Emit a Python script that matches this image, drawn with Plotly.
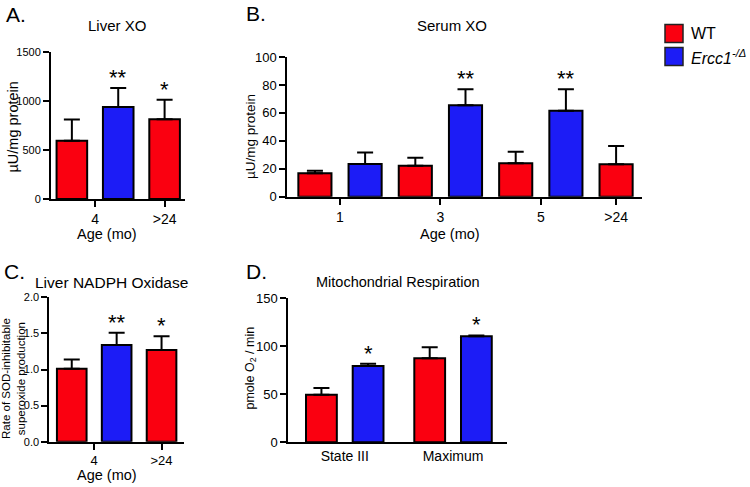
import plotly.graph_objects as go

# ---------------- data ----------------
liver_xo_age = ["4", "4", ">24"]
liver_xo_genotype = ["WT", "Ercc1", "WT"]
liver_xo_mean = [595, 940, 815]
liver_xo_sem = [218, 195, 200]
liver_xo_sig = ["", "**", "*"]

serum_xo_age = ["1", "1", "3", "3", "5", "5", ">24"]
serum_xo_genotype = ["WT", "Ercc1", "WT", "Ercc1", "WT", "Ercc1", "WT"]
serum_xo_mean = [16.7, 23.4, 22.1, 65.5, 23.9, 61.5, 23.2]
serum_xo_sem = [1.9, 8.3, 5.8, 11.5, 8.3, 15.5, 13.1]
serum_xo_sig = ["", "", "", "**", "", "**", ""]

nadph_age = ["4", "4", ">24"]
nadph_genotype = ["WT", "Ercc1", "WT"]
nadph_mean = [1.01, 1.34, 1.27]
nadph_sem = [0.13, 0.17, 0.19]
nadph_sig = ["", "**", "*"]

resp_state = ["State III", "State III", "Maximum", "Maximum"]
resp_genotype = ["WT", "Ercc1", "WT", "Ercc1"]
resp_mean = [49.5, 79.5, 87.5, 110.5]
resp_sem = [7.0, 2.2, 11.5, 0.8]
resp_sig = ["", "*", "", "*"]

genotypes = ["WT", "Ercc1"]
genotype_names = {"WT": "WT", "Ercc1": "<i>Ercc1</i><sup><i>-/Δ</i></sup>"}

# ---------------- style ----------------
FONT = "Liberation Sans, Arial, Helvetica, sans-serif"
COLORS = {"WT": "#fa0010", "Ercc1": "#1c1cf6"}
W, H = 750, 487


def px_x(p):
    return p / W


def px_y(p):
    return 1 - p / H


panels = [
    dict(letter="A.", title="Liver XO", groups=liver_xo_age, geno=liver_xo_genotype,
         mean=liver_xo_mean, sem=liver_xo_sem, sig=liver_xo_sig,
         xdom=[51, 185], ydom=[199, 52.3], xr=[-0.45, 2.44], yr=[0, 1500], dtick=500,
         tickfmt="", ytitle="µU/mg protein", ytitle_size=14.5, ytitle_pos=(12.5, 127),
         ytick_size=11, xtick_size=14,
         xtitle="Age (mo)", xtitle_pos=(107, 234), xticks=True, gap=0.0,
         letter_pos=(4, 15), title_pos=(117, 25), title_size=15),
    dict(letter="B.", title="Serum XO", groups=serum_xo_age, geno=serum_xo_genotype,
         mean=serum_xo_mean, sem=serum_xo_sem, sig=serum_xo_sig,
         xdom=[287.3, 641.7], ydom=[196.7, 57], xr=[-0.55, 6.51], yr=[0, 100], dtick=20,
         tickfmt="", ytitle="µU/mg protein", ytitle_size=13.5, ytitle_pos=(250, 137),
         ytick_size=13, xtick_size=14,
         xtitle="Age (mo)", xtitle_pos=(450, 234), xticks=True, gap=0.0,
         letter_pos=(244, 13), title_pos=(452, 25), title_size=15),
    dict(letter="C.", title="Liver NADPH Oxidase", groups=nadph_age, geno=nadph_genotype,
         mean=nadph_mean, sem=nadph_sem, sig=nadph_sig,
         xdom=[49.3, 184], ydom=[441.7, 297.3], xr=[-0.5, 2.5], yr=[0, 2.0], dtick=0.5,
         tickfmt=".1f", ytitle="Rate of SOD-inhibitable<br>superoxide production",
         ytitle_size=11.5, ytitle_pos=(13, 379), ytick_size=11, xtick_size=13,
         xtitle="Age (mo)", xtitle_pos=(107, 475), xticks=True, gap=0.0,
         letter_pos=(2, 271), title_pos=(111, 282), title_size=15.5),
    dict(letter="D.", title="Mitochondrial Respiration", groups=resp_state, geno=resp_genotype,
         mean=resp_mean, sem=resp_sem, sig=resp_sig,
         xdom=[288.3, 506.7], ydom=[442.3, 298.3], xr=[-0.71, 3.97], yr=[0, 150], dtick=50,
         tickfmt="", ytitle="pmole O<sub>2</sub> / min", ytitle_size=12.5,
         ytitle_pos=(250.5, 368), ytick_size=13, xtick_size=14,
         xtitle=None, xtitle_pos=None, xticks=False, gap=0.32,
         letter_pos=(244, 271), title_pos=(398, 282), title_size=14.5),
]


def bar_positions(groups, gap):
    pos, p = [], 0.0
    for i, g in enumerate(groups):
        if i > 0:
            p += 1 + (gap if g != groups[i - 1] else 0)
        pos.append(p)
    return pos


fig = go.Figure()
annotations = []
shapes = []
layout_axes = {}

for i, pn in enumerate(panels, start=1):
    sfx = "" if i == 1 else str(i)
    pos = bar_positions(pn["groups"], pn["gap"])
    for g in genotypes:
        idx = [k for k, gg in enumerate(pn["geno"]) if gg == g]
        if not idx:
            continue
        fig.add_trace(go.Bar(
            x=[pos[k] for k in idx],
            y=[pn["mean"][k] for k in idx],
            width=0.66,
            name=genotype_names[g],
            showlegend=False,
            marker=dict(color=COLORS[g], line=dict(color="black", width=2)),
            error_y=dict(type="data", symmetric=False,
                         array=[pn["sem"][k] for k in idx],
                         arrayminus=[0] * len(idx),
                         color="black", thickness=2, width=8),
            xaxis="x" + sfx, yaxis="y" + sfx,
        ))
    # significance stars
    for k, s in enumerate(pn["sig"]):
        if s:
            annotations.append(dict(
                x=pos[k], y=pn["mean"][k] + pn["sem"][k], xref="x" + sfx, yref="y" + sfx,
                text=s, showarrow=False, yanchor="bottom", yshift=-4,
                font=dict(family=FONT, size=22, color="black")))
    # ticks at group centres
    uniq = []
    for g in pn["groups"]:
        if g not in uniq:
            uniq.append(g)
    tickvals = [sum(p for p, gg in zip(pos, pn["groups"]) if gg == u) /
                pn["groups"].count(u) for u in uniq]

    layout_axes["xaxis" + sfx] = dict(
        domain=[px_x(pn["xdom"][0]), px_x(pn["xdom"][1])],
        range=pn["xr"], anchor="y" + sfx,
        tickmode="array", tickvals=tickvals, ticktext=uniq,
        showline=True, linecolor="black", linewidth=2,
        ticks="outside" if pn["xticks"] else "", ticklen=6, tickwidth=2, tickcolor="black",
        showgrid=False, zeroline=False, fixedrange=True, automargin=False,
        tickfont=dict(family=FONT, size=pn["xtick_size"], color="black"),
    )
    layout_axes["yaxis" + sfx] = dict(
        domain=[px_y(pn["ydom"][0]), px_y(pn["ydom"][1])],
        range=pn["yr"], anchor="x" + sfx,
        tickmode="linear", tick0=0, dtick=pn["dtick"], tickformat=pn["tickfmt"],
        showline=True, linecolor="black", linewidth=2,
        ticks="outside", ticklen=6, tickwidth=2, tickcolor="black",
        showgrid=False, zeroline=False, fixedrange=True, automargin=False,
        tickfont=dict(family=FONT, size=pn["ytick_size"], color="black"),
    )
    # axis titles
    yx, yy = pn["ytitle_pos"]
    annotations.append(dict(
        x=px_x(yx), y=px_y(yy),
        xref="paper", yref="paper", text=pn["ytitle"], textangle=-90, showarrow=False,
        xanchor="center", yanchor="middle",
        font=dict(family=FONT, size=pn["ytitle_size"], color="black")))
    if pn["xtitle"]:
        xx, xy = pn["xtitle_pos"]
        annotations.append(dict(
            x=px_x(xx), y=px_y(xy), xref="paper", yref="paper", text=pn["xtitle"],
            showarrow=False, xanchor="center", yanchor="middle",
            font=dict(family=FONT, size=14.5, color="black")))
    # panel letter and title
    lx, ly = pn["letter_pos"]
    annotations.append(dict(x=px_x(lx), y=px_y(ly), xref="paper", yref="paper",
                            text=pn["letter"], showarrow=False, xanchor="left",
                            yanchor="middle",
                            font=dict(family=FONT, size=21, color="black")))
    tx, ty = pn["title_pos"]
    annotations.append(dict(x=px_x(tx), y=px_y(ty), xref="paper", yref="paper",
                            text=pn["title"], showarrow=False, xanchor="center",
                            yanchor="middle",
                            font=dict(family=FONT, size=pn["title_size"], color="black")))

# legend (keys drawn as squares beside labels)
legend_top, legend_step, key_size = 24.5, 23, 18
for j, g in enumerate(genotypes):
    y0 = legend_top + j * legend_step
    shapes.append(dict(type="rect", xref="paper", yref="paper",
                       x0=px_x(665), x1=px_x(665 + key_size),
                       y0=px_y(y0 + key_size), y1=px_y(y0),
                       fillcolor=COLORS[g], line=dict(color="#222222", width=1.5)))
    annotations.append(dict(x=px_x(689), y=px_y(y0 + key_size / 2), xref="paper", yref="paper",
                            text=genotype_names[g], showarrow=False, xanchor="left",
                            yanchor="middle",
                            font=dict(family=FONT, size=16, color="black")))

fig.update_layout(
    width=W, height=H,
    margin=dict(l=0, r=0, t=0, b=0),
    paper_bgcolor="white", plot_bgcolor="white",
    font=dict(family=FONT, color="black"),
    barmode="overlay",
    showlegend=False,
    annotations=annotations,
    shapes=shapes,
    **layout_axes,
)

fig.write_html(
    "out.html",
    config={"displayModeBar": False},
    post_script="document.body.style.margin='0px';document.body.style.overflow='hidden';",
)
